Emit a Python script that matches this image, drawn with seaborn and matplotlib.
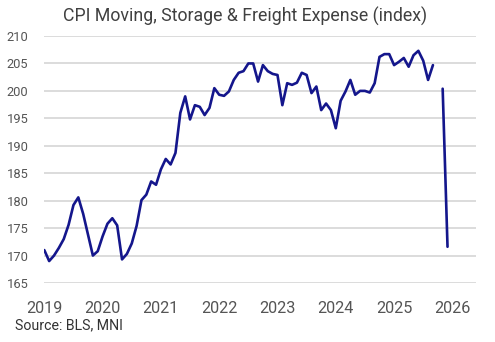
import numpy as np
import pandas as pd
import matplotlib
matplotlib.use("Agg")
import matplotlib.pyplot as plt
import seaborn as sns

# Monthly index values, Jan 2019 .. Dec 2025 (Oct 2025 missing)
v2019 = [171.0, 169.0, 170.0, 171.4, 173.0, 175.6, 179.2, 180.6, 177.6, 173.8, 170.0, 170.8]
v2020 = [173.5, 175.8, 176.8, 175.5, 169.3, 170.3, 172.2, 175.4, 180.1, 181.1, 183.5, 182.9]
v2021 = [185.7, 187.6, 186.6, 188.7, 196.0, 199.0, 194.8, 197.4, 197.1, 195.6, 196.9, 200.5]
v2022 = [199.3, 199.1, 199.9, 202.0, 203.3, 203.6, 205.0, 205.0, 201.7, 204.7, 203.6, 203.1]
v2023 = [202.9, 197.4, 201.4, 201.1, 201.5, 203.3, 202.9, 199.6, 200.8, 196.5, 197.7, 196.5]
v2024 = [193.2, 198.2, 199.9, 202.0, 199.3, 200.0, 200.0, 199.7, 201.4, 206.2, 206.7, 206.7]
v2025 = [204.7, 205.3, 206.0, 204.4, 206.5, 207.3, 205.5, 202.0, 204.7, np.nan, 200.4, 171.6]

years = [2019, 2020, 2021, 2022, 2023, 2024, 2025, 2026]
year_labels = [str(y) for y in years]
y_ticks = [165, 170, 175, 180, 185, 190, 195, 200, 205, 210]

values = v2019 + v2020 + v2021 + v2022 + v2023 + v2024 + v2025
n = len(values)
t = [2019 + i / 12 for i in range(n)]
df = pd.DataFrame({"t": t, "v": values})
# split into segments at missing values so the line breaks
df["seg"] = df["v"].isna().cumsum()
df = df.dropna()

sns.set_theme(style="white")
plt.rcParams["font.family"] = ["Roboto", "DejaVu Sans"]

fig = plt.figure(figsize=(4.95, 3.42), dpi=100)
ax = fig.add_axes([0.0895, 0.1725, 0.8715, 0.7222])

for _, d in df.groupby("seg"):
    sns.lineplot(data=d, x="t", y="v", ax=ax, color="#14168c", linewidth=1.9,
                 legend=False)

ax.set_xlim(2019, 2026.4)
ax.set_ylim(165, 210)
ax.set_yticks(y_ticks)
ax.set_yticklabels([str(y) for y in y_ticks])
ax.set_xticks(years)
ax.set_xticklabels(year_labels)
ax.grid(axis="y", color="#d9d9d9", linewidth=1.3)
ax.grid(axis="x", visible=False)
ax.set_axisbelow(True)
for s in ax.spines.values():
    s.set_visible(False)
ax.tick_params(axis="y", length=0, pad=11.5, labelsize=9.3, labelcolor="#555555")
ax.tick_params(axis="x", length=0, pad=13, labelsize=11.7, labelcolor="#555555")
ax.set_xlabel("")
ax.set_ylabel("")

fig.text(0.495, 0.953, "CPI Moving, Storage & Freight Expense (index)",
         ha="center", va="center", fontsize=12.8, color="#404040")
fig.text(0.03, 0.05, "Source: BLS, MNI", ha="left", va="center",
         fontsize=10.2, color="#333333")

fig.savefig("out.png", dpi=100)
